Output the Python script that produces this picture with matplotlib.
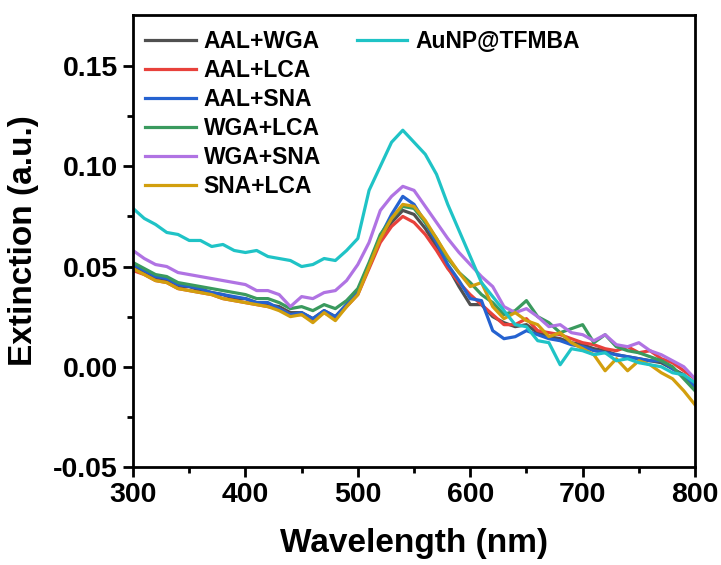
import numpy as np
import matplotlib.pyplot as plt

plt.rcParams['font.family'] = ['Liberation Sans', 'DejaVu Sans']
plt.rcParams['font.weight'] = 'bold'

wavelength = np.arange(300, 801, 10)

aal_wga = [0.050, 0.047, 0.044, 0.043, 0.040, 0.040, 0.038, 0.037, 0.036, 0.034,
           0.034, 0.032, 0.031, 0.030, 0.027, 0.027, 0.024, 0.028, 0.025, 0.031,
           0.037, 0.050, 0.063, 0.072, 0.078, 0.076, 0.069, 0.060, 0.050, 0.040,
           0.031, 0.031, 0.025, 0.022, 0.020, 0.021, 0.017, 0.015, 0.014, 0.012,
           0.011, 0.009, 0.008, 0.006, 0.005, 0.004, 0.003, 0.002, -0.001, -0.004,
           -0.009]
aal_lca = [0.048, 0.046, 0.043, 0.042, 0.039, 0.038, 0.037, 0.036, 0.034, 0.033,
           0.032, 0.031, 0.030, 0.029, 0.026, 0.026, 0.023, 0.027, 0.024, 0.030,
           0.036, 0.049, 0.062, 0.070, 0.075, 0.072, 0.066, 0.058, 0.049, 0.042,
           0.036, 0.031, 0.026, 0.021, 0.021, 0.024, 0.018, 0.017, 0.016, 0.014,
           0.012, 0.011, 0.009, 0.008, 0.010, 0.007, 0.008, 0.004, 0.002, -0.002,
           -0.006]
aal_sna = [0.051, 0.048, 0.045, 0.044, 0.041, 0.040, 0.039, 0.037, 0.036, 0.035,
           0.034, 0.032, 0.032, 0.029, 0.026, 0.027, 0.024, 0.028, 0.025, 0.031,
           0.038, 0.051, 0.065, 0.076, 0.085, 0.081, 0.072, 0.062, 0.051, 0.043,
           0.034, 0.033, 0.018, 0.014, 0.015, 0.018, 0.016, 0.014, 0.013, 0.011,
           0.010, 0.008, 0.007, 0.006, 0.005, 0.004, 0.003, 0.003, -0.001, -0.005,
           -0.010]
wga_lca = [0.052, 0.049, 0.046, 0.045, 0.042, 0.041, 0.040, 0.039, 0.038, 0.037,
           0.036, 0.034, 0.034, 0.032, 0.029, 0.030, 0.028, 0.031, 0.029, 0.033,
           0.039, 0.052, 0.066, 0.074, 0.080, 0.079, 0.072, 0.064, 0.054, 0.047,
           0.042, 0.036, 0.032, 0.026, 0.028, 0.033, 0.025, 0.022, 0.017, 0.019,
           0.021, 0.012, 0.016, 0.010, 0.008, 0.007, 0.005, 0.003, 0.000, -0.006,
           -0.012]
wga_sna = [0.058, 0.054, 0.051, 0.050, 0.047, 0.046, 0.045, 0.044, 0.043, 0.042,
           0.041, 0.038, 0.038, 0.036, 0.030, 0.035, 0.034, 0.037, 0.038, 0.043,
           0.051, 0.062, 0.078, 0.085, 0.090, 0.088, 0.080, 0.072, 0.064, 0.057,
           0.051, 0.045, 0.040, 0.030, 0.027, 0.029, 0.025, 0.020, 0.021, 0.017,
           0.016, 0.013, 0.016, 0.011, 0.010, 0.012, 0.008, 0.006, 0.003, 0.000,
           -0.006]
sna_lca = [0.049, 0.046, 0.043, 0.042, 0.039, 0.038, 0.037, 0.036, 0.034, 0.033,
           0.032, 0.031, 0.030, 0.028, 0.025, 0.026, 0.022, 0.027, 0.023, 0.030,
           0.036, 0.050, 0.064, 0.074, 0.081, 0.080, 0.073, 0.064, 0.055, 0.047,
           0.040, 0.042, 0.030, 0.024, 0.027, 0.023, 0.021, 0.015, 0.017, 0.012,
           0.009, 0.006, -0.002, 0.004, -0.002, 0.003, 0.001, -0.003, -0.006, -0.012,
           -0.019]
aunp = [0.079, 0.074, 0.071, 0.067, 0.066, 0.063, 0.063, 0.060, 0.061, 0.058,
        0.057, 0.058, 0.055, 0.054, 0.053, 0.050, 0.051, 0.054, 0.053, 0.058,
        0.064, 0.088, 0.100, 0.112, 0.118, 0.112, 0.106, 0.096, 0.081, 0.068,
        0.055, 0.042, 0.035, 0.028, 0.021, 0.020, 0.013, 0.012, 0.001, 0.009,
        0.008, 0.006, 0.007, 0.003, 0.004, 0.002, 0.001, 0.000, -0.003, -0.004,
        -0.008]

labels = ['AAL+WGA', 'AAL+LCA', 'AAL+SNA', 'WGA+LCA', 'WGA+SNA', 'SNA+LCA']
series = [aal_wga, aal_lca, aal_sna, wga_lca, wga_sna, sna_lca]
colors = ['#505050', '#e8413b', '#2562d0', '#3a9a5e', '#b073e3', '#d29f0e']

fig = plt.figure(figsize=(7.21, 5.65), dpi=100)
ax = fig.add_axes([0.1845, 0.1735, 0.7795, 0.8])

lines = []
for y, lab, c in zip(series, labels, colors):
    ln, = ax.plot(wavelength, y, color=c, lw=2.3, label=lab)
    lines.append(ln)
ln_au, = ax.plot(wavelength, aunp, color='#1fc3c6', lw=2.3, label='AuNP@TFMBA')

ax.set_xlim(300, 800)
ax.set_ylim(-0.05, 0.1755)
ax.set_xticks([300, 400, 500, 600, 700, 800])
ax.set_xticks(np.arange(350, 800, 100), minor=True)
ax.set_yticks([-0.05, 0.00, 0.05, 0.10, 0.15])
ax.set_yticks(np.arange(-0.025, 0.17, 0.05), minor=True)
ax.set_yticklabels(['-0.05', '0.00', '0.05', '0.10', '0.15'])

for s in ax.spines.values():
    s.set_linewidth(2)
ax.tick_params(which='major', direction='out', length=7, width=2, labelsize=20.5, pad=4)
ax.tick_params(which='minor', direction='out', length=4, width=2)

ax.set_xlabel('Wavelength (nm)', fontsize=24, fontweight='bold', labelpad=14)
ax.set_ylabel('Extinction (a.u.)', fontsize=24, fontweight='bold', labelpad=10)

leg_kw = dict(frameon=False, fontsize=16.5, handlelength=2.2, handletextpad=0.35,
              borderaxespad=0.25)
leg1 = ax.legend(handles=lines, loc='upper left', bbox_to_anchor=(-0.005, 1.0),
                 labelspacing=0.26, **leg_kw)
ax.add_artist(leg1)
ax.legend(handles=[ln_au], loc='upper left', bbox_to_anchor=(0.372, 1.0), **leg_kw)

fig.savefig('out.png', dpi=100)
